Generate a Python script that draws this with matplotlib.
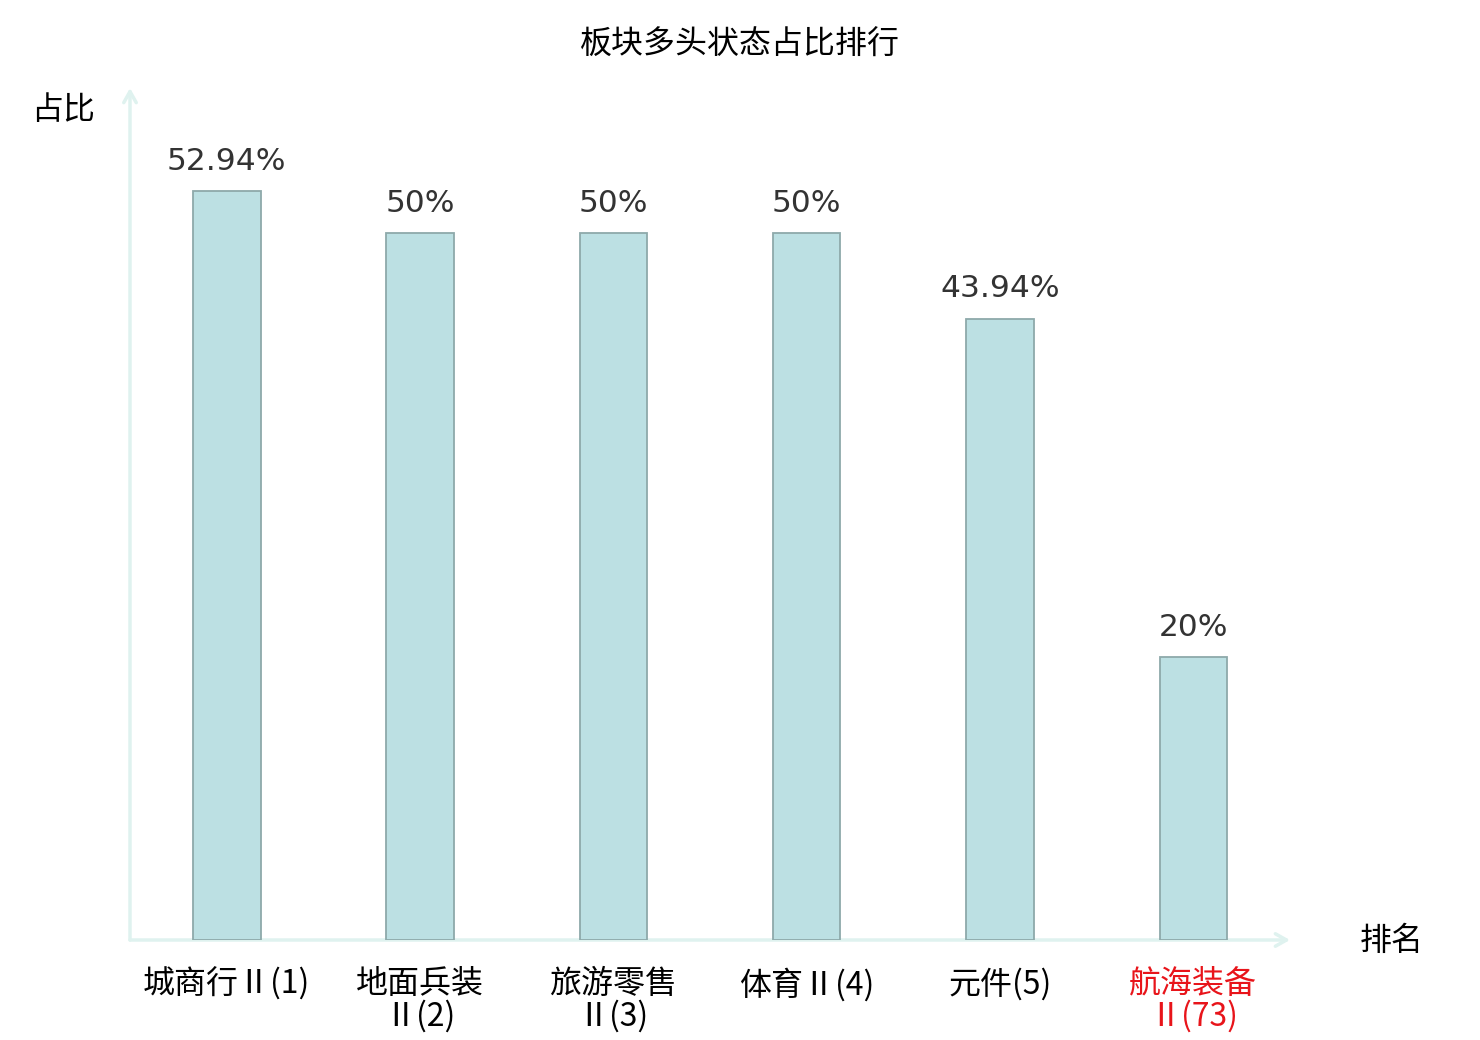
import matplotlib
matplotlib.use("Agg")
import matplotlib.pyplot as plt

plt.rcParams['font.family'] = ['Noto Sans CJK SC', 'DejaVu Sans']

# data
categories = ["城商行Ⅱ(1)", "地面兵装\nⅡ(2)", "旅游零售\nⅡ(3)", "体育Ⅱ(4)", "元件(5)", "航海装备\nⅡ(73)"]
values = [52.94, 50, 50, 50, 43.94, 20]
value_labels = ["52.94%", "50%", "50%", "50%", "43.94%", "20%"]
label_colors = ["black", "black", "black", "black", "black", "#e8141a"]

W, H = 1480, 1040
fig = plt.figure(figsize=(W / 100, H / 100), dpi=100)
ax = fig.add_axes([130 / W, 100 / H, (1290 - 130) / W, (940 - 88) / H])

x = list(range(len(categories)))
ax.bar(x, values, width=0.35, color="#bce0e3", edgecolor="#8ea9aa", linewidth=1.3, zorder=2)
ax.set_xlim(-0.5, 5.5)
ax.set_ylim(0, 60.25)

for xi, v, lab in zip(x, values, value_labels):
    ax.annotate(lab, (xi, v), xytext=(0, 11), textcoords="offset points",
                ha="center", va="bottom", fontsize=22.5, color="#333333",
                family="DejaVu Sans")

# axes drawn as arrows
for s in ax.spines.values():
    s.set_visible(False)
ax.set_yticks([])
ax.set_xticks(x)
ax.set_xticklabels(categories, fontsize=23, linespacing=1.0)
ax.tick_params(axis="x", length=0, pad=20)
for t, c in zip(ax.get_xticklabels(), label_colors):
    t.set_color(c)
    t.set_verticalalignment("top")

arrow = dict(arrowstyle="->,head_length=0.8,head_width=0.45", color="#dff2ef", lw=2.5,
             shrinkA=0, shrinkB=0)
ax.annotate("", xy=(0, 1), xytext=(0, 0), xycoords="axes fraction", arrowprops=arrow, zorder=1)
ax.annotate("", xy=(1, 0), xytext=(0, 0), xycoords="axes fraction", arrowprops=arrow, zorder=1)

fig.text(63 / W, 1 - 110 / H, "占比", fontsize=23, ha="center", va="center")
fig.text(1392 / W, 1 - 941 / H, "排名", fontsize=23, ha="center", va="center")
fig.text(740 / W, 1 - 45 / H, "板块多头状态占比排行", fontsize=23, ha="center", va="center")

fig.savefig("out.png", dpi=100)
